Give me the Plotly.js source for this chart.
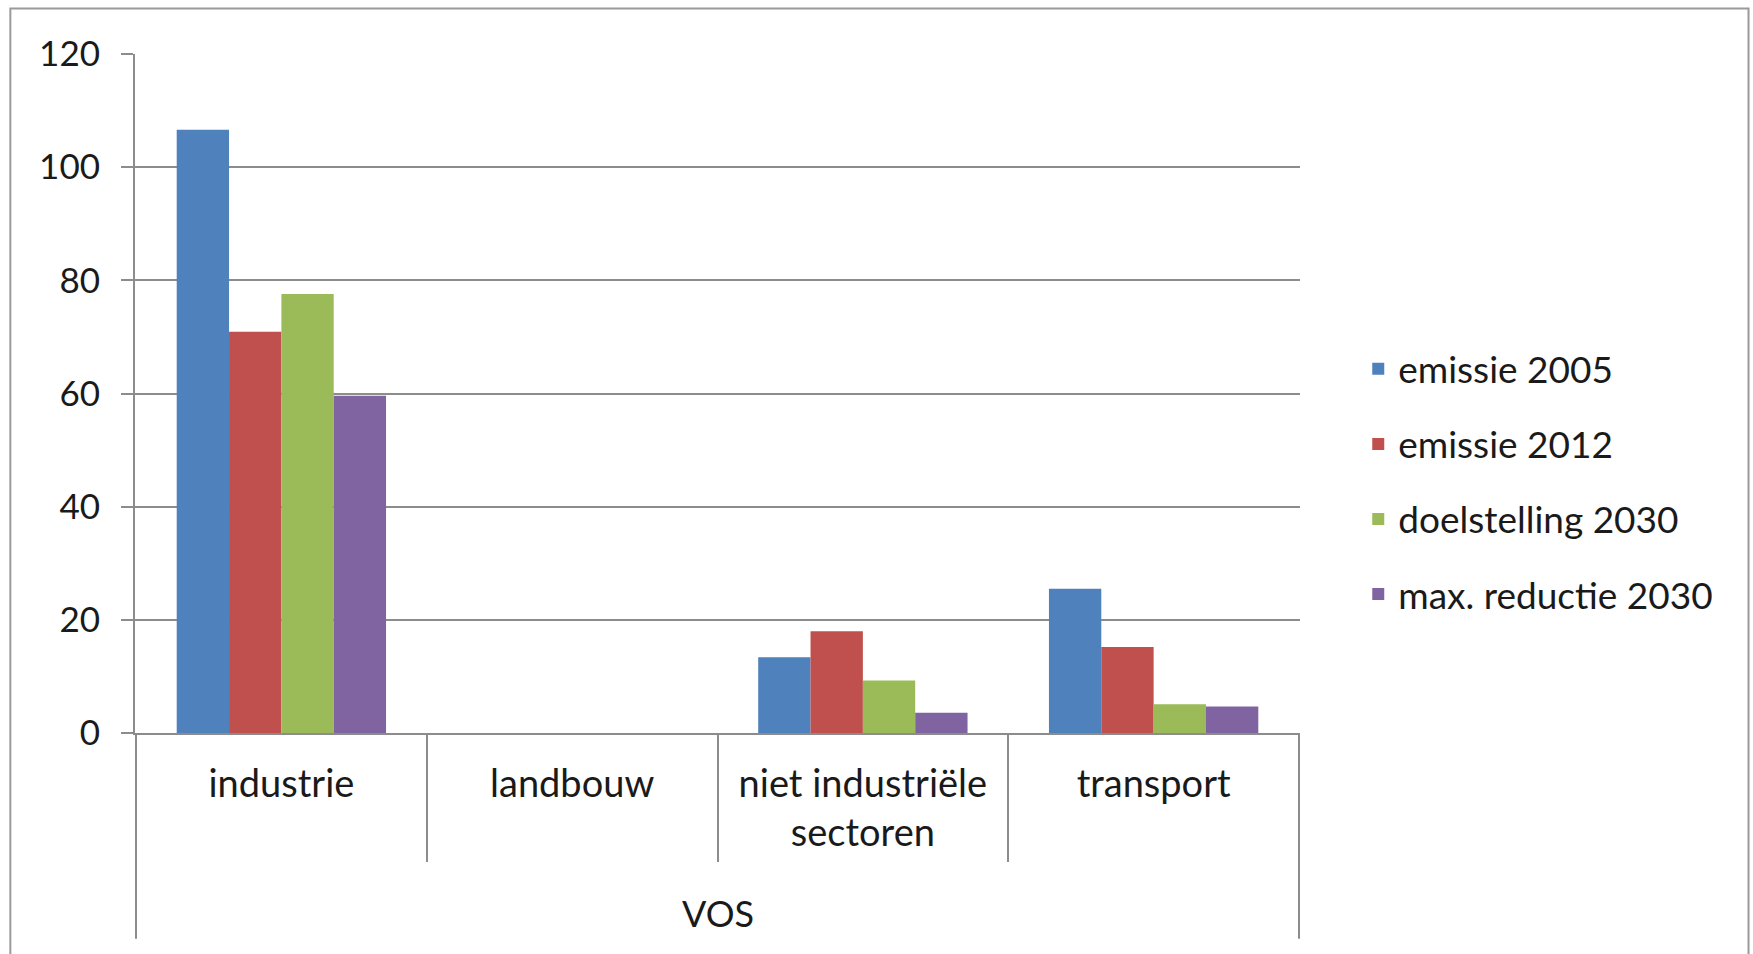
<!DOCTYPE html>
<html>
<head>
<meta charset="utf-8">
<script src="https://cdn.plot.ly/plotly-3.0.1.min.js"></script>
<style>html,body{margin:0;padding:0;background:#fff;}#chart{width:1753px;height:954px;}</style>
</head>
<body>
<div id="chart"></div>
<script>
const categories = ["industrie", "landbouw", "niet industriële<br>sectoren", "transport"];
const groupLabel = "VOS";
const seriesNames = ["emissie 2005", "emissie 2012", "doelstelling 2030", "max. reductie 2030"];
const emissie2005 = [106.6, 0, 13.4, 25.5];
const emissie2012 = [70.9, 0, 18.0, 15.2];
const doelstelling2030 = [77.6, 0, 9.3, 5.1];
const maxReductie2030 = [59.6, 0, 3.6, 4.7];
const yTicks = [0, 20, 40, 60, 80, 100, 120];

const colors = ["#4F81BD", "#C0504D", "#9BBB59", "#8064A2"];
const seriesValues = [emissie2005, emissie2012, doelstelling2030, maxReductie2030];
const font = "Lato, 'Open Sans', sans-serif";
const gray = "#8c8c8c";

const traces = seriesValues.map((vals, i) => ({
  type: "bar",
  name: seriesNames[i],
  x: categories,
  y: vals,
  marker: {color: colors[i], line: {width: 0}},
  legendgroup: "g" + i,
  hoverinfo: "x+y+name"
}));

const layout = {
  width: 1753, height: 954,
  margin: {l: 135, r: 453, t: 54, b: 221},
  paper_bgcolor: "#fff", plot_bgcolor: "#fff",
  font: {family: font, color: "#1a1a1a"},
  barmode: "group",
  bargap: 0.28,
  bargroupgap: 0,
  showlegend: true,
  legend: {
    x: 1.05, xanchor: "left", y: 0.37, yanchor: "middle",
    font: {family: font, size: 37, color: "#1a1a1a"},
    tracegroupgap: 24, traceorder: "grouped",
    itemwidth: 30, bgcolor: "rgba(0,0,0,0)"
  },
  xaxis: {
    type: "category",
    showgrid: false,
    showline: true, linecolor: gray, linewidth: 2,
    ticks: "outside", tickson: "boundaries", ticklen: 127, tickwidth: 2, tickcolor: gray,
    ticklabelstandoff: 16,
    tickfont: {family: font, size: 38, color: "#1a1a1a"},
    fixedrange: true, automargin: false
  },
  yaxis: {
    range: [0, 120],
    tickvals: yTicks,
    ticktext: yTicks.map(String),
    showgrid: true, gridcolor: gray, gridwidth: 2,
    zeroline: false,
    showline: true, linecolor: gray, linewidth: 2,
    ticks: "outside", ticklen: 12, tickwidth: 2, tickcolor: gray,
    tickfont: {family: font, size: 35, color: "#1a1a1a"},
    ticklabelstandoff: 14,
    fixedrange: true, automargin: false
  },
  shapes: [
    {type: "line", xref: "x", yref: "paper", x0: -0.5, x1: -0.5, y0: 0, y1: -0.303, line: {color: gray, width: 2}},
    {type: "line", xref: "x", yref: "paper", x0: 3.5, x1: 3.5, y0: 0, y1: -0.303, line: {color: gray, width: 2}},
    {type: "rect", xref: "paper", yref: "paper", x0: -0.107, x1: 1.385, y0: -0.4, y1: 1.067, line: {color: "#9a9a9a", width: 2}, layer: "below"}
  ],
  annotations: [
    {text: groupLabel, xref: "x", yref: "paper", x: 1.5, y: -0.265, showarrow: false, xanchor: "center", yanchor: "middle",
     font: {family: font, size: 36, color: "#1a1a1a"}}
  ]
};

Plotly.newPlot("chart", traces, layout, {displayModeBar: false, staticPlot: true});
</script>
</body>
</html>
